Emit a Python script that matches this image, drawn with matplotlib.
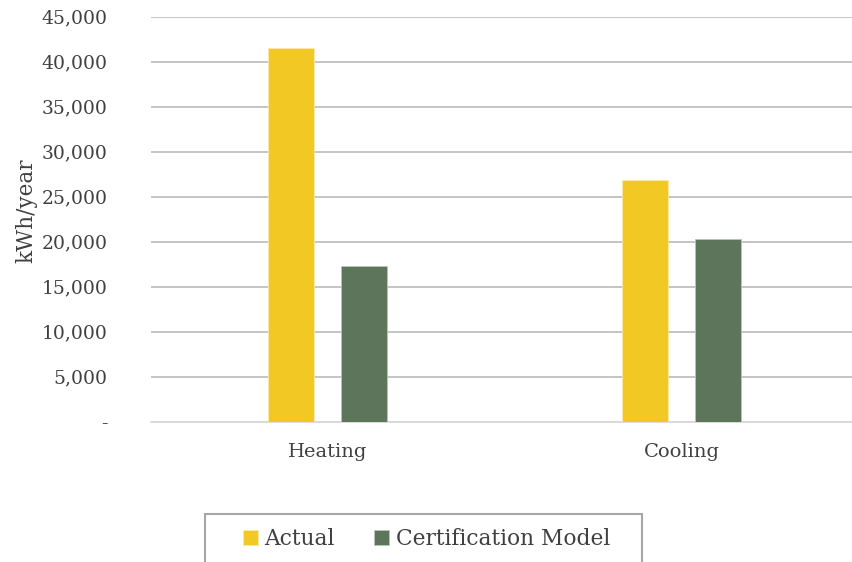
import matplotlib
matplotlib.use("Agg")
import matplotlib.pyplot as plt
from matplotlib.patches import Rectangle
from matplotlib.ticker import FuncFormatter
import numpy as np

categories = ["Heating", "Cooling"]
actual = [41500, 26800]
certification = [17300, 20350]
series_names = ["Actual", "Certification Model"]
colors = ["#F2C824", "#5C755B"]
text_color = "#404040"

plt.rcParams['font.family'] = ['DejaVu Serif']

fig = plt.figure(figsize=(8.52, 5.62), dpi=100)
ax = fig.add_axes([0.1769, 0.2497, 0.8305, 0.7206])

x = np.arange(len(categories))
width = 0.13
offset = 0.1023
ax.bar(x - offset, actual, width, color=colors[0], label=series_names[0],
       edgecolor="#FBE9A8", linewidth=0.6, zorder=3)
ax.bar(x + offset, certification, width, color=colors[1], label=series_names[1],
       edgecolor="#B8C4B7", linewidth=0.6, zorder=3)

ax.set_xlim(-0.5, 1.5)
ax.set_ylim(0, 45000)
ax.set_yticks(np.arange(0, 45001, 5000))
ax.yaxis.set_major_formatter(FuncFormatter(lambda v, p: "-" if v == 0 else f"{int(v):,}"))
ax.set_xticks(x)
ax.set_xticklabels(categories)

ax.grid(axis="y", color="#BFBFBF", linewidth=1.3, zorder=0)
for s in ["top", "right", "left"]:
    ax.spines[s].set_visible(False)
ax.spines["bottom"].set_color("#D9D9D9")
ax.spines["bottom"].set_linewidth(1.3)
ax.tick_params(axis="y", length=0, pad=31, labelsize=13.5, labelcolor=text_color)
ax.tick_params(axis="x", length=0, pad=15, labelsize=14, labelcolor=text_color)

fig.text(26 / 852, 1 - 211 / 562, "kWh/year", rotation=90, ha="center", va="center",
         fontsize=15.5, color=text_color)

# legend frame, cut by the bottom edge like the original
fig.patches.append(Rectangle((205 / 852, -0.05), (642 - 205) / 852, 0.05 + (562 - 514) / 562,
                             transform=fig.transFigure, fill=False,
                             edgecolor="#A6A6A6", linewidth=1.5))
fig.legend(loc="center left", bbox_to_anchor=(223 / 852, 1 - 539 / 562), ncol=2,
           frameon=False, fontsize=15.7, labelcolor=text_color, handlelength=0.7,
           handleheight=0.7, handletextpad=0.3, columnspacing=1.8)

fig.savefig("out.png", dpi=100)
